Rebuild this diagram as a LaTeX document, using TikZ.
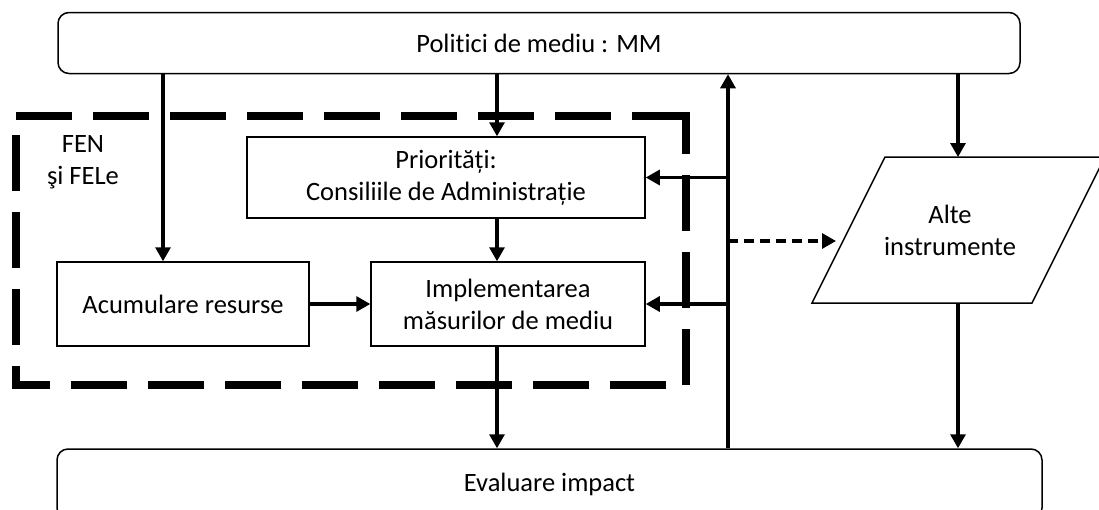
\documentclass[tikz,border=0pt]{standalone}
\usepackage{fontspec}
\setmainfont{Carlito}[Ligatures={NoCommon}]
\usetikzlibrary{arrows.meta}
\begin{document}
\begin{tikzpicture}[x=1pt,y=-1pt,
  txt/.style={inner sep=0pt, align=center, font=\fontsize{26.5}{32}\selectfont},
  box/.style={txt, draw, line width=1.5pt},
  rbox/.style={box, rounded corners=11pt},
  link/.style={line width=3.1pt, -{Triangle[length=14pt,width=15pt]}},
  dlink/.style={link, dash pattern=on 10pt off 6pt},
  frame/.style={line width=7.5pt, line cap=butt, dash pattern=on 56pt off 21pt},
  ]
\useasboundingbox (0,0) rectangle (1099,509);

% main blocks
\node[rbox, minimum width=962pt, minimum height=61pt] (mm) at (539,43) {Politici de mediu : MM};
\node[rbox, minimum width=985pt, minimum height=70pt] (ev) at (549.5,484) {Evaluare impact};
\node[box, minimum width=398pt, minimum height=81pt] (prio) at (446,177.5) {Priorități:\\Consiliile de Administrație};
\node[box, minimum width=252pt, minimum height=84pt] (acum) at (183,304) {Acumulare resurse};
\node[box, minimum width=274pt, minimum height=84pt] (impl) at (508,304) {Implementarea\\măsurilor de mediu};
\node[txt] (fen) at (83,162) {FEN\\şi FELe};

% parallelogram for the other instruments
\coordinate (pa) at (812,303);
\coordinate (pb) at (1032,303);
\coordinate (pc) at (1105,157);
\coordinate (pd) at (885,157);
\draw[line width=1.5pt] (pa) -- (pb) -- (pc) -- (pd) -- cycle;
\node[txt] (alte) at (950,230) {Alte\\instrumente};
\coordinate (alteTop) at (958,157);
\coordinate (alteBot) at (958,303);
\coordinate (alteIn) at (836,241);

% dashed frame around the FEN / FELe blocks
\draw[frame] (16,116) -- (686,116);
\draw[frame, dash phase=14pt] (686,112.25) -- (686,387);
\draw[frame, dash phase=57pt] (686,385) -- (16,385);
\draw[frame, dash phase=33.5pt] (16,388.75) -- (16,116);

% vertical guide columns
\coordinate (colA) at (163,0);
\coordinate (colB) at (497,0);
\coordinate (fb) at (728,0);

% connectors
\draw[link] (mm.south -| colA) -- (acum.north -| colA);
\draw[link] (mm.south -| colB) -- (prio.north -| colB);
\draw[link] (prio.south -| colB) -- (impl.north -| colB);
\draw[link] (impl.south -| colB) -- (ev.north -| colB);
\draw[link] (acum.east) -- (impl.west);
\draw[link] (ev.north -| fb) -- (mm.south -| fb);
\draw[link] (prio.east -| fb) -- (prio.east);
\draw[link] (impl.east -| fb) -- (impl.east);
\draw[dlink] (alteIn -| fb) -- (alteIn);
\draw[link] (mm.south -| alteTop) -- (alteTop);
\draw[link] (alteBot) -- (ev.north -| alteBot);
\end{tikzpicture}
\end{document}
